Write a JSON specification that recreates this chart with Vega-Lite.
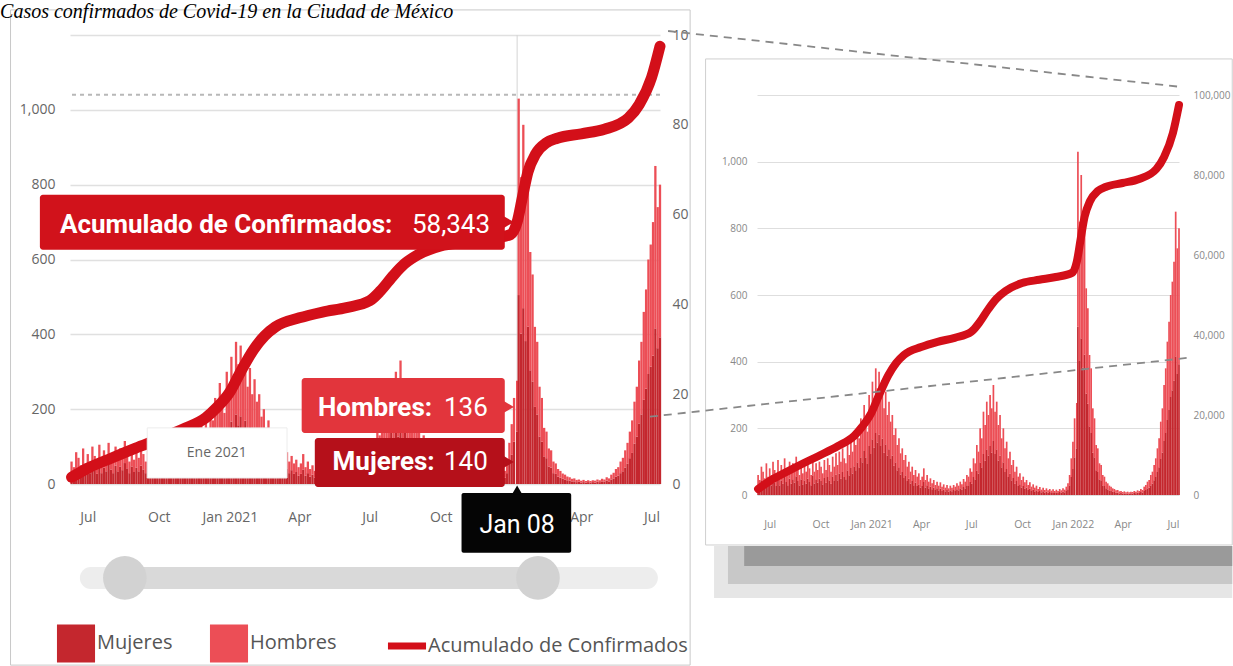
{
"$schema":"https://vega.github.io/schema/vega-lite/v6.json",
"background":"white",
"padding":{"left":0,"top":2,"right":0,"bottom":0},
"title":{"text":"Casos confirmados de Covid-19 en la Ciudad de México","anchor":"start","frame":"bounds","font":"Liberation Serif","fontSize":20,"fontStyle":"italic","fontWeight":"normal","color":"#000","dx":-10,"offset":-13},
"config":{"view":{"stroke":null},"font":"Open Sans","axis":{"domain":false,"ticks":false,"tickSize":0,"labelFont":"Open Sans"}},
"bounds":"flush",
"spacing":97,
"resolve":{"scale":{"color":"independent"},"legend":{"color":"independent"}},
"datasets":{
"diario":[
{"f":"2020-06-10","Mujeres":29,"Hombres":31},{"f":"2020-06-13","Mujeres":22,"Hombres":23},{"f":"2020-06-16","Mujeres":42,"Hombres":43},{"f":"2020-06-19","Mujeres":34,"Hombres":36},{"f":"2020-06-22","Mujeres":25,"Hombres":25},{"f":"2020-06-25","Mujeres":47,"Hombres":48},{"f":"2020-06-28","Mujeres":27,"Hombres":28},
{"f":"2020-07-01","Mujeres":39,"Hombres":41},{"f":"2020-07-04","Mujeres":29,"Hombres":31},{"f":"2020-07-07","Mujeres":49,"Hombres":51},{"f":"2020-07-10","Mujeres":37,"Hombres":38},{"f":"2020-07-13","Mujeres":27,"Hombres":28},{"f":"2020-07-16","Mujeres":51,"Hombres":54},{"f":"2020-07-19","Mujeres":29,"Hombres":31},{"f":"2020-07-22","Mujeres":44,"Hombres":46},{"f":"2020-07-25","Mujeres":34,"Hombres":36},{"f":"2020-07-28","Mujeres":54,"Hombres":56},{"f":"2020-07-31","Mujeres":39,"Hombres":41},
{"f":"2020-08-03","Mujeres":29,"Hombres":31},{"f":"2020-08-06","Mujeres":49,"Hombres":51},{"f":"2020-08-09","Mujeres":34,"Hombres":36},{"f":"2020-08-12","Mujeres":47,"Hombres":48},{"f":"2020-08-15","Mujeres":37,"Hombres":38},{"f":"2020-08-18","Mujeres":56,"Hombres":59},{"f":"2020-08-21","Mujeres":42,"Hombres":43},{"f":"2020-08-24","Mujeres":29,"Hombres":31},{"f":"2020-08-27","Mujeres":47,"Hombres":48},{"f":"2020-08-30","Mujeres":32,"Hombres":33},
{"f":"2020-09-02","Mujeres":44,"Hombres":46},{"f":"2020-09-05","Mujeres":34,"Hombres":36},{"f":"2020-09-08","Mujeres":49,"Hombres":51},{"f":"2020-09-11","Mujeres":39,"Hombres":41},{"f":"2020-09-14","Mujeres":29,"Hombres":31},{"f":"2020-09-17","Mujeres":59,"Hombres":61},{"f":"2020-09-20","Mujeres":34,"Hombres":36},{"f":"2020-09-23","Mujeres":47,"Hombres":48},{"f":"2020-09-26","Mujeres":37,"Hombres":38},{"f":"2020-09-29","Mujeres":49,"Hombres":51},
{"f":"2020-10-02","Mujeres":42,"Hombres":43},{"f":"2020-10-05","Mujeres":32,"Hombres":33},{"f":"2020-10-08","Mujeres":51,"Hombres":54},{"f":"2020-10-11","Mujeres":37,"Hombres":38},{"f":"2020-10-14","Mujeres":54,"Hombres":56},{"f":"2020-10-17","Mujeres":44,"Hombres":46},{"f":"2020-10-20","Mujeres":34,"Hombres":36},{"f":"2020-10-23","Mujeres":56,"Hombres":59},{"f":"2020-10-26","Mujeres":42,"Hombres":43},{"f":"2020-10-29","Mujeres":61,"Hombres":64},
{"f":"2020-11-01","Mujeres":44,"Hombres":46},{"f":"2020-11-04","Mujeres":64,"Hombres":66},{"f":"2020-11-07","Mujeres":49,"Hombres":51},{"f":"2020-11-10","Mujeres":69,"Hombres":71},{"f":"2020-11-13","Mujeres":54,"Hombres":56},{"f":"2020-11-16","Mujeres":47,"Hombres":48},{"f":"2020-11-19","Mujeres":74,"Hombres":76},{"f":"2020-11-22","Mujeres":59,"Hombres":61},{"f":"2020-11-25","Mujeres":81,"Hombres":84},{"f":"2020-11-28","Mujeres":64,"Hombres":66},
{"f":"2020-12-01","Mujeres":86,"Hombres":89},{"f":"2020-12-04","Mujeres":74,"Hombres":76},{"f":"2020-12-07","Mujeres":98,"Hombres":102},{"f":"2020-12-10","Mujeres":83,"Hombres":87},{"f":"2020-12-13","Mujeres":113,"Hombres":117},{"f":"2020-12-16","Mujeres":98,"Hombres":102},{"f":"2020-12-19","Mujeres":132,"Hombres":138},{"f":"2020-12-22","Mujeres":113,"Hombres":117},{"f":"2020-12-25","Mujeres":93,"Hombres":97},{"f":"2020-12-28","Mujeres":147,"Hombres":153},{"f":"2020-12-31","Mujeres":123,"Hombres":127},
{"f":"2021-01-03","Mujeres":167,"Hombres":173},{"f":"2021-01-06","Mujeres":142,"Hombres":148},{"f":"2021-01-09","Mujeres":186,"Hombres":194},{"f":"2021-01-12","Mujeres":157,"Hombres":163},{"f":"2021-01-15","Mujeres":181,"Hombres":189},{"f":"2021-01-18","Mujeres":147,"Hombres":153},{"f":"2021-01-21","Mujeres":169,"Hombres":176},{"f":"2021-01-24","Mujeres":127,"Hombres":133},{"f":"2021-01-27","Mujeres":152,"Hombres":158},{"f":"2021-01-30","Mujeres":118,"Hombres":122},
{"f":"2021-02-02","Mujeres":137,"Hombres":143},{"f":"2021-02-05","Mujeres":108,"Hombres":112},{"f":"2021-02-08","Mujeres":118,"Hombres":122},{"f":"2021-02-11","Mujeres":88,"Hombres":92},{"f":"2021-02-14","Mujeres":98,"Hombres":102},{"f":"2021-02-17","Mujeres":74,"Hombres":76},{"f":"2021-02-20","Mujeres":83,"Hombres":87},{"f":"2021-02-23","Mujeres":61,"Hombres":64},{"f":"2021-02-26","Mujeres":69,"Hombres":71},
{"f":"2021-03-01","Mujeres":51,"Hombres":54},{"f":"2021-03-04","Mujeres":59,"Hombres":61},{"f":"2021-03-07","Mujeres":42,"Hombres":43},{"f":"2021-03-10","Mujeres":49,"Hombres":51},{"f":"2021-03-13","Mujeres":34,"Hombres":36},{"f":"2021-03-16","Mujeres":42,"Hombres":43},{"f":"2021-03-19","Mujeres":29,"Hombres":31},{"f":"2021-03-22","Mujeres":37,"Hombres":38},{"f":"2021-03-25","Mujeres":27,"Hombres":28},{"f":"2021-03-28","Mujeres":32,"Hombres":33},{"f":"2021-03-31","Mujeres":22,"Hombres":23},
{"f":"2021-04-03","Mujeres":27,"Hombres":28},{"f":"2021-04-06","Mujeres":39,"Hombres":41},{"f":"2021-04-09","Mujeres":22,"Hombres":23},{"f":"2021-04-12","Mujeres":29,"Hombres":31},{"f":"2021-04-15","Mujeres":20,"Hombres":20},{"f":"2021-04-18","Mujeres":25,"Hombres":25},{"f":"2021-04-21","Mujeres":17,"Hombres":18},{"f":"2021-04-24","Mujeres":22,"Hombres":23},{"f":"2021-04-27","Mujeres":15,"Hombres":15},{"f":"2021-04-30","Mujeres":20,"Hombres":20},
{"f":"2021-05-03","Mujeres":14,"Hombres":14},{"f":"2021-05-06","Mujeres":19,"Hombres":19},{"f":"2021-05-09","Mujeres":12,"Hombres":13},{"f":"2021-05-12","Mujeres":16,"Hombres":16},{"f":"2021-05-15","Mujeres":11,"Hombres":11},{"f":"2021-05-18","Mujeres":15,"Hombres":15},{"f":"2021-05-21","Mujeres":10,"Hombres":10},{"f":"2021-05-24","Mujeres":14,"Hombres":14},{"f":"2021-05-27","Mujeres":11,"Hombres":11},{"f":"2021-05-30","Mujeres":15,"Hombres":15},
{"f":"2021-06-02","Mujeres":12,"Hombres":13},{"f":"2021-06-05","Mujeres":17,"Hombres":18},{"f":"2021-06-08","Mujeres":14,"Hombres":14},{"f":"2021-06-11","Mujeres":20,"Hombres":20},{"f":"2021-06-14","Mujeres":16,"Hombres":16},{"f":"2021-06-17","Mujeres":24,"Hombres":24},{"f":"2021-06-20","Mujeres":20,"Hombres":20},{"f":"2021-06-23","Mujeres":29,"Hombres":31},{"f":"2021-06-26","Mujeres":27,"Hombres":28},{"f":"2021-06-29","Mujeres":39,"Hombres":41},
{"f":"2021-07-02","Mujeres":34,"Hombres":36},{"f":"2021-07-05","Mujeres":54,"Hombres":56},{"f":"2021-07-08","Mujeres":47,"Hombres":48},{"f":"2021-07-11","Mujeres":74,"Hombres":76},{"f":"2021-07-14","Mujeres":64,"Hombres":66},{"f":"2021-07-17","Mujeres":98,"Hombres":102},{"f":"2021-07-20","Mujeres":83,"Hombres":87},{"f":"2021-07-23","Mujeres":123,"Hombres":127},{"f":"2021-07-26","Mujeres":103,"Hombres":107},{"f":"2021-07-29","Mujeres":137,"Hombres":143},
{"f":"2021-08-01","Mujeres":118,"Hombres":122},{"f":"2021-08-04","Mujeres":147,"Hombres":153},{"f":"2021-08-07","Mujeres":127,"Hombres":133},{"f":"2021-08-10","Mujeres":162,"Hombres":168},{"f":"2021-08-13","Mujeres":123,"Hombres":127},{"f":"2021-08-16","Mujeres":137,"Hombres":143},{"f":"2021-08-19","Mujeres":103,"Hombres":107},{"f":"2021-08-22","Mujeres":118,"Hombres":122},{"f":"2021-08-25","Mujeres":83,"Hombres":87},{"f":"2021-08-28","Mujeres":98,"Hombres":102},{"f":"2021-08-31","Mujeres":69,"Hombres":71},
{"f":"2021-09-03","Mujeres":78,"Hombres":82},{"f":"2021-09-06","Mujeres":54,"Hombres":56},{"f":"2021-09-09","Mujeres":64,"Hombres":66},{"f":"2021-09-12","Mujeres":44,"Hombres":46},{"f":"2021-09-15","Mujeres":51,"Hombres":54},{"f":"2021-09-18","Mujeres":34,"Hombres":36},{"f":"2021-09-21","Mujeres":42,"Hombres":43},{"f":"2021-09-24","Mujeres":27,"Hombres":28},{"f":"2021-09-27","Mujeres":32,"Hombres":33},{"f":"2021-09-30","Mujeres":22,"Hombres":23},
{"f":"2021-10-03","Mujeres":27,"Hombres":28},{"f":"2021-10-06","Mujeres":19,"Hombres":19},{"f":"2021-10-09","Mujeres":22,"Hombres":23},{"f":"2021-10-12","Mujeres":15,"Hombres":15},{"f":"2021-10-15","Mujeres":19,"Hombres":19},{"f":"2021-10-18","Mujeres":12,"Hombres":13},{"f":"2021-10-21","Mujeres":16,"Hombres":16},{"f":"2021-10-24","Mujeres":11,"Hombres":11},{"f":"2021-10-27","Mujeres":14,"Hombres":14},{"f":"2021-10-30","Mujeres":9,"Hombres":9},
{"f":"2021-11-02","Mujeres":12,"Hombres":12},{"f":"2021-11-05","Mujeres":8,"Hombres":8},{"f":"2021-11-08","Mujeres":11,"Hombres":11},{"f":"2021-11-11","Mujeres":7,"Hombres":8},{"f":"2021-11-14","Mujeres":10,"Hombres":10},{"f":"2021-11-17","Mujeres":7,"Hombres":7},{"f":"2021-11-20","Mujeres":9,"Hombres":9},{"f":"2021-11-23","Mujeres":6,"Hombres":7},{"f":"2021-11-26","Mujeres":8,"Hombres":9},{"f":"2021-11-29","Mujeres":6,"Hombres":6},
{"f":"2021-12-02","Mujeres":8,"Hombres":8},{"f":"2021-12-05","Mujeres":6,"Hombres":6},{"f":"2021-12-08","Mujeres":9,"Hombres":9},{"f":"2021-12-11","Mujeres":7,"Hombres":7},{"f":"2021-12-14","Mujeres":10,"Hombres":10},{"f":"2021-12-17","Mujeres":8,"Hombres":8},{"f":"2021-12-20","Mujeres":12,"Hombres":13},{"f":"2021-12-23","Mujeres":17,"Hombres":18},{"f":"2021-12-26","Mujeres":29,"Hombres":31},{"f":"2021-12-29","Mujeres":54,"Hombres":56},
{"f":"2022-01-01","Mujeres":78,"Hombres":82},{"f":"2022-01-04","Mujeres":113,"Hombres":117},{"f":"2022-01-08","Mujeres":140,"Hombres":136},{"f":"2022-01-10","Mujeres":505,"Hombres":525},{"f":"2022-01-13","Mujeres":402,"Hombres":418},{"f":"2022-01-16","Mujeres":470,"Hombres":490},{"f":"2022-01-19","Mujeres":382,"Hombres":398},{"f":"2022-01-22","Mujeres":421,"Hombres":439},{"f":"2022-01-25","Mujeres":304,"Hombres":316},{"f":"2022-01-28","Mujeres":274,"Hombres":286},{"f":"2022-01-31","Mujeres":206,"Hombres":214},
{"f":"2022-02-03","Mujeres":186,"Hombres":194},{"f":"2022-02-06","Mujeres":127,"Hombres":133},{"f":"2022-02-09","Mujeres":113,"Hombres":117},{"f":"2022-02-12","Mujeres":74,"Hombres":76},{"f":"2022-02-15","Mujeres":69,"Hombres":71},{"f":"2022-02-18","Mujeres":47,"Hombres":48},{"f":"2022-02-21","Mujeres":44,"Hombres":46},{"f":"2022-02-24","Mujeres":29,"Hombres":31},{"f":"2022-02-27","Mujeres":27,"Hombres":28},
{"f":"2022-03-02","Mujeres":20,"Hombres":20},{"f":"2022-03-05","Mujeres":17,"Hombres":18},{"f":"2022-03-08","Mujeres":14,"Hombres":14},{"f":"2022-03-11","Mujeres":12,"Hombres":13},{"f":"2022-03-14","Mujeres":10,"Hombres":10},{"f":"2022-03-17","Mujeres":9,"Hombres":9},{"f":"2022-03-20","Mujeres":7,"Hombres":7},{"f":"2022-03-23","Mujeres":7,"Hombres":8},{"f":"2022-03-26","Mujeres":5,"Hombres":6},{"f":"2022-03-29","Mujeres":6,"Hombres":6},
{"f":"2022-04-01","Mujeres":4,"Hombres":5},{"f":"2022-04-04","Mujeres":5,"Hombres":6},{"f":"2022-04-07","Mujeres":4,"Hombres":4},{"f":"2022-04-10","Mujeres":5,"Hombres":5},{"f":"2022-04-13","Mujeres":4,"Hombres":4},{"f":"2022-04-16","Mujeres":5,"Hombres":5},{"f":"2022-04-19","Mujeres":4,"Hombres":5},{"f":"2022-04-22","Mujeres":6,"Hombres":6},{"f":"2022-04-25","Mujeres":5,"Hombres":5},{"f":"2022-04-28","Mujeres":7,"Hombres":7},
{"f":"2022-05-01","Mujeres":6,"Hombres":6},{"f":"2022-05-04","Mujeres":9,"Hombres":9},{"f":"2022-05-07","Mujeres":7,"Hombres":8},{"f":"2022-05-10","Mujeres":12,"Hombres":13},{"f":"2022-05-13","Mujeres":15,"Hombres":15},{"f":"2022-05-16","Mujeres":20,"Hombres":20},{"f":"2022-05-19","Mujeres":22,"Hombres":23},{"f":"2022-05-22","Mujeres":29,"Hombres":31},{"f":"2022-05-25","Mujeres":34,"Hombres":36},{"f":"2022-05-28","Mujeres":44,"Hombres":46},{"f":"2022-05-31","Mujeres":54,"Hombres":56},
{"f":"2022-06-03","Mujeres":69,"Hombres":71},{"f":"2022-06-06","Mujeres":83,"Hombres":87},{"f":"2022-06-09","Mujeres":108,"Hombres":112},{"f":"2022-06-12","Mujeres":127,"Hombres":133},{"f":"2022-06-15","Mujeres":162,"Hombres":168},{"f":"2022-06-18","Mujeres":186,"Hombres":194},{"f":"2022-06-21","Mujeres":225,"Hombres":235},{"f":"2022-06-24","Mujeres":255,"Hombres":265},{"f":"2022-06-27","Mujeres":294,"Hombres":306},{"f":"2022-06-30","Mujeres":314,"Hombres":326},
{"f":"2022-07-03","Mujeres":343,"Hombres":357},{"f":"2022-07-06","Mujeres":416,"Hombres":434},{"f":"2022-07-09","Mujeres":363,"Hombres":377},{"f":"2022-07-12","Mujeres":392,"Hombres":408}
],
"acumulado":[
{"f":"2020-06-10","v":1500},{"f":"2020-07-01","v":3500},{"f":"2020-08-01","v":5800},{"f":"2020-09-01","v":8000},{"f":"2020-10-01","v":10000},{"f":"2020-11-01","v":12200},{"f":"2020-12-01","v":14800},{"f":"2020-12-15","v":17000},{"f":"2021-01-01","v":20500},{"f":"2021-01-15","v":25000},{"f":"2021-02-01","v":30000},{"f":"2021-02-15","v":33000},{"f":"2021-03-01","v":35000},{"f":"2021-04-01","v":37000},{"f":"2021-05-01","v":38300},{"f":"2021-06-01","v":39300},{"f":"2021-07-01","v":40800},{"f":"2021-07-15","v":43000},{"f":"2021-08-01","v":46500},{"f":"2021-08-15","v":49000},{"f":"2021-09-01","v":51000},{"f":"2021-10-01","v":53000},{"f":"2021-11-01","v":53800},{"f":"2021-12-01","v":54500},{"f":"2021-12-31","v":55600},{"f":"2022-01-08","v":58343},{"f":"2022-01-15","v":64000},{"f":"2022-01-22","v":69500},{"f":"2022-02-01","v":73500},{"f":"2022-02-15","v":76000},{"f":"2022-03-01","v":77000},{"f":"2022-04-01","v":78000},{"f":"2022-05-01","v":79000},{"f":"2022-06-01","v":81500},{"f":"2022-06-15","v":84500},{"f":"2022-07-01","v":90500},{"f":"2022-07-12","v":97500}
]
},
"hconcat":[
{
"width":590,"height":449,
"resolve":{"scale":{"y":"independent"}},
"layer":[
{"layer":[
{"data":{"values":[{}]},"mark":{"type":"rule","color":"#b8b8b8","strokeWidth":2,"strokeDash":[4,4]},"encoding":{"y":{"datum":1040,"type":"quantitative"}}},
{"data":{"values":[{}]},"mark":{"type":"rule","color":"#d4d4d4","strokeWidth":1},"encoding":{"x":{"datum":{"year":2022,"month":1,"date":8},"type":"temporal"}}},
{"data":{"name":"diario"},
"transform":[{"fold":["Mujeres","Hombres"],"as":["sexo","casos"]},{"calculate":"datum.sexo == 'Mujeres' ? 0 : 1","as":"orden"}],
"mark":{"type":"bar","width":2.3},
"encoding":{
"x":{"field":"f","type":"temporal","scale":{"domain":[{"year":2020,"month":6,"date":8},{"year":2022,"month":7,"date":12}],"padding":0},
"axis":{"tickCount":{"interval":"month","step":3},"labelOverlap":false,
"labelExpr":"timeFormat(datum.value, '%Y-%m') == '2022-01' ? '' : (timeFormat(datum.value, '%m') == '01' ? timeFormat(datum.value, '%b %Y') : timeFormat(datum.value, '%b'))","title":null,"grid":false,"labelFontSize":14,"labelPadding":26,"labelColor":"#666"}},
"y":{"field":"casos","type":"quantitative","stack":"zero","scale":{"domain":[0,1200],"nice":false},
"axis":{"values":[0,200,400,600,800,1000,1200],"labelExpr":"datum.value == 1200 ? '' : format(datum.value, ',')","title":null,"grid":true,"gridColor":"#e0e0e0","gridWidth":1.5,"labelFontSize":14,"labelPadding":15,"labelColor":"#666"}},
"color":{"field":"sexo","type":"nominal","scale":{"domain":["Mujeres","Hombres","Acumulado de Confirmados"],"range":["#c4272e","#ec4e56","#d30f19"]},
"legend":{"orient":"none","legendX":-4,"legendY":598,"direction":"horizontal","title":null,"symbolSize":1450,"symbolType":"square","symbolStrokeWidth":0,"symbolOpacity":1,"labelFontSize":20,"labelFont":"Open Sans","labelColor":"#555","labelOffset":11,"columnPadding":36,"padding":0,"labelLimit":400,
"encode":{"symbols":{"update":{"shape":{"signal":"datum.label == 'Acumulado de Confirmados' ? 'stroke' : 'square'"},"strokeWidth":{"signal":"datum.label == 'Acumulado de Confirmados' ? 7 : 0"},"stroke":{"signal":"datum.label == 'Acumulado de Confirmados' ? '#d30f19' : 'transparent'"},"opacity":{"value":1}}}}}},
"order":{"field":"orden"}
}}
]},
{"data":{"name":"acumulado"},
"mark":{"type":"line","strokeWidth":11,"strokeCap":"round","strokeJoin":"round","interpolate":"monotone"},
"encoding":{
"x":{"field":"f","type":"temporal"},
"y":{"field":"v","type":"quantitative","scale":{"domain":[0,100000],"nice":false},
"axis":{"orient":"right","values":[0,20000,40000,60000,80000,100000],"labelExpr":"substring(format(datum.value, ','), 0, 2)","title":null,"grid":false,"labelFontSize":14,"labelPadding":12,"labelColor":"#666"}},
"color":{"datum":"Acumulado de Confirmados"}
}},
{"data":{"values":[{}]},
"layer":[
{"mark":{"type":"rect","fill":"white","fillOpacity":0,"stroke":"#c8c8c8","strokeWidth":1},
"encoding":{"x":{"datum":{"year":2020,"month":3,"date":23},"type":"temporal"},"x2":{"datum":{"year":2022,"month":8,"date":20}},"y":{"datum":-484,"type":"quantitative","scale":{"domain":[0,1200],"nice":false},"axis":null},"y2":{"datum":1267}}},
{"mark":{"type":"rule","color":"#ededed","strokeWidth":22,"strokeCap":"round"},
"encoding":{"x":{"datum":{"year":2020,"month":7,"date":5},"type":"temporal"},"x2":{"datum":{"year":2022,"month":6,"date":25}},"y":{"datum":-251,"type":"quantitative","axis":null}}},
{"mark":{"type":"rule","color":"#d9d9d9","strokeWidth":22},
"encoding":{"x":{"datum":{"year":2020,"month":8,"date":18},"type":"temporal"},"x2":{"datum":{"year":2022,"month":2,"date":4}},"y":{"datum":-251,"type":"quantitative","axis":null}}},
{"mark":{"type":"point","shape":"circle","filled":true,"size":1900,"color":"#d2d2d2","opacity":1},
"encoding":{"x":{"datum":{"year":2020,"month":8,"date":18},"type":"temporal"},"y":{"datum":-251,"type":"quantitative","axis":null}}},
{"mark":{"type":"point","shape":"circle","filled":true,"size":1900,"color":"#d2d2d2","opacity":1},
"encoding":{"x":{"datum":{"year":2022,"month":2,"date":4},"type":"temporal"},"y":{"datum":-251,"type":"quantitative","axis":null}}},
{"mark":{"type":"rect","fill":"white","stroke":"#ececec","strokeWidth":1},
"encoding":{"x":{"datum":{"year":2020,"month":9,"date":16},"type":"temporal"},"x2":{"datum":{"year":2021,"month":3,"date":16}},"y":{"datum":16,"type":"quantitative","axis":null},"y2":{"datum":150}}},
{"mark":{"type":"text","text":"Ene 2021","font":"Open Sans","fontSize":14,"color":"#666","align":"center","baseline":"middle"},
"encoding":{"x":{"datum":{"year":2020,"month":12,"date":15},"type":"temporal"},"y":{"datum":83,"type":"quantitative","axis":null}}},
{"mark":{"type":"rect","fill":"#d1121b","cornerRadius":3},
"encoding":{"x":{"datum":{"year":2020,"month":4,"date":30},"type":"temporal"},"x2":{"datum":{"year":2021,"month":12,"date":23}},"y":{"datum":626,"type":"quantitative","axis":null},"y2":{"datum":773}}},
{"mark":{"type":"point","shape":"triangle-right","filled":true,"size":150,"color":"#d1121b","opacity":1},
"encoding":{"x":{"datum":{"year":2021,"month":12,"date":28},"type":"temporal"},"y":{"datum":700,"type":"quantitative","axis":null}}},
{"mark":{"type":"text","text":"Acumulado de Confirmados:","font":"Roboto","fontWeight":"bold","fontSize":26,"color":"white","align":"left","baseline":"middle"},
"encoding":{"x":{"datum":{"year":2020,"month":5,"date":26},"type":"temporal"},"y":{"datum":692,"type":"quantitative","axis":null}}},
{"mark":{"type":"text","text":"58,343","font":"Roboto","fontSize":26,"color":"white","align":"right","baseline":"middle"},
"encoding":{"x":{"datum":{"year":2021,"month":12,"date":4},"type":"temporal"},"y":{"datum":692,"type":"quantitative","axis":null}}},
{"mark":{"type":"rect","fill":"#e2353c","cornerRadius":3},
"encoding":{"x":{"datum":{"year":2021,"month":4,"date":4},"type":"temporal"},"x2":{"datum":{"year":2021,"month":12,"date":23}},"y":{"datum":136,"type":"quantitative","axis":null},"y2":{"datum":283}}},
{"mark":{"type":"point","shape":"triangle-right","filled":true,"size":150,"color":"#e2353c","opacity":1},
"encoding":{"x":{"datum":{"year":2021,"month":12,"date":28},"type":"temporal"},"y":{"datum":206,"type":"quantitative","axis":null}}},
{"mark":{"type":"text","text":"Hombres:","font":"Roboto","fontWeight":"bold","fontSize":26,"color":"white","align":"left","baseline":"middle"},
"encoding":{"x":{"datum":{"year":2021,"month":4,"date":25},"type":"temporal"},"y":{"datum":203,"type":"quantitative","axis":null}}},
{"mark":{"type":"text","text":"136","font":"Roboto","fontSize":26,"color":"white","align":"right","baseline":"middle"},
"encoding":{"x":{"datum":{"year":2021,"month":12,"date":1},"type":"temporal"},"y":{"datum":203,"type":"quantitative","axis":null}}},
{"mark":{"type":"rect","fill":"#b5101a","cornerRadius":3},
"encoding":{"x":{"datum":{"year":2021,"month":4,"date":21},"type":"temporal"},"x2":{"datum":{"year":2021,"month":12,"date":23}},"y":{"datum":-8,"type":"quantitative","axis":null},"y2":{"datum":123}}},
{"mark":{"type":"point","shape":"triangle-right","filled":true,"size":150,"color":"#b5101a","opacity":1},
"encoding":{"x":{"datum":{"year":2021,"month":12,"date":28},"type":"temporal"},"y":{"datum":59,"type":"quantitative","axis":null}}},
{"mark":{"type":"text","text":"Mujeres:","font":"Roboto","fontWeight":"bold","fontSize":26,"color":"white","align":"left","baseline":"middle"},
"encoding":{"x":{"datum":{"year":2021,"month":5,"date":14},"type":"temporal"},"y":{"datum":59,"type":"quantitative","axis":null}}},
{"mark":{"type":"text","text":"140","font":"Roboto","fontSize":26,"color":"white","align":"right","baseline":"middle"},
"encoding":{"x":{"datum":{"year":2021,"month":12,"date":1},"type":"temporal"},"y":{"datum":59,"type":"quantitative","axis":null}}},
{"mark":{"type":"rect","fill":"#050505","cornerRadius":2},
"encoding":{"x":{"datum":{"year":2021,"month":10,"date":28},"type":"temporal"},"x2":{"datum":{"year":2022,"month":3,"date":19}},"y":{"datum":-184,"type":"quantitative","axis":null},"y2":{"datum":-24}}},
{"mark":{"type":"point","shape":"triangle-up","filled":true,"size":110,"color":"#050505","opacity":1},
"encoding":{"x":{"datum":{"year":2022,"month":1,"date":8},"type":"temporal"},"y":{"datum":-16,"type":"quantitative","axis":null}}},
{"mark":{"type":"text","text":"Jan 08","font":"Roboto","fontSize":25,"color":"white","align":"center","baseline":"middle"},
"encoding":{"x":{"datum":{"year":2022,"month":1,"date":8},"type":"temporal"},"y":{"datum":-110,"type":"quantitative","axis":null}}},
{"mark":{"type":"rect","fill":"#e6e6e6"},
"encoding":{"x":{"datum":{"year":2022,"month":9,"date":20},"type":"temporal"},"x2":{"datum":{"year":2024,"month":7,"date":22}},"y":{"datum":-305,"type":"quantitative","axis":null},"y2":{"datum":-166}}},
{"mark":{"type":"rect","fill":"#c8c8c8"},
"encoding":{"x":{"datum":{"year":2022,"month":10,"date":8},"type":"temporal"},"x2":{"datum":{"year":2024,"month":7,"date":22}},"y":{"datum":-267,"type":"quantitative","axis":null},"y2":{"datum":-166}}},
{"mark":{"type":"rect","fill":"#9a9a9a"},
"encoding":{"x":{"datum":{"year":2022,"month":10,"date":29},"type":"temporal"},"x2":{"datum":{"year":2024,"month":7,"date":22}},"y":{"datum":-219,"type":"quantitative","axis":null},"y2":{"datum":-166}}},
{"mark":{"type":"rect","fill":"white","stroke":"#cfcfcf","strokeWidth":1},
"encoding":{"x":{"datum":{"year":2022,"month":9,"date":9},"type":"temporal"},"x2":{"datum":{"year":2024,"month":7,"date":22}},"y":{"datum":-163,"type":"quantitative","axis":null},"y2":{"datum":1136}}}
]}
]
},
{
"vconcat":[
{"width":422,"height":60,"data":{"values":[{}]},"mark":{"type":"point","opacity":0},"encoding":{}},
{
"width":422,"height":400,
"resolve":{"scale":{"y":"independent"}},
"layer":[
{"data":{"name":"diario"},
"transform":[{"fold":["Mujeres","Hombres"],"as":["sexo","casos"]},{"calculate":"datum.sexo == 'Mujeres' ? 0 : 1","as":"orden"}],
"mark":{"type":"bar","width":1.7},
"encoding":{
"x":{"field":"f","type":"temporal","scale":{"domain":[{"year":2020,"month":6,"date":8},{"year":2022,"month":7,"date":12}],"padding":0},
"axis":{"tickCount":{"interval":"month","step":3},"labelOverlap":false,
"labelExpr":"timeFormat(datum.value, '%m') == '01' ? timeFormat(datum.value, '%b %Y') : timeFormat(datum.value, '%b')","title":null,"grid":false,"labelFontSize":10.5,"labelPadding":24,"labelColor":"#888"}},
"y":{"field":"casos","type":"quantitative","stack":"zero","scale":{"domain":[0,1200],"nice":false},
"axis":{"values":[0,200,400,600,800,1000,1200],"labelExpr":"datum.value == 1200 ? '' : format(datum.value, ',')","title":null,"grid":true,"gridColor":"#dedede","gridWidth":1,"labelFontSize":10,"labelPadding":10,"labelColor":"#888"}},
"color":{"field":"sexo","type":"nominal","scale":{"domain":["Mujeres","Hombres","Acumulado de Confirmados"],"range":["#c4272e","#ec4e56","#d30f19"]},"legend":null},
"order":{"field":"orden"}
}},
{"data":{"name":"acumulado"},
"mark":{"type":"line","strokeWidth":8,"strokeCap":"round","strokeJoin":"round","interpolate":"monotone","color":"#d30f19"},
"encoding":{
"x":{"field":"f","type":"temporal"},
"y":{"field":"v","type":"quantitative","scale":{"domain":[0,100000],"nice":false},
"axis":{"orient":"right","values":[0,20000,40000,60000,80000,100000],"labelExpr":"format(datum.value, ',')","title":null,"grid":false,"labelFontSize":10,"labelPadding":14,"labelColor":"#888"}}
}},
{"data":{"values":[{}]},
"layer":[
{"mark":{"type":"rule","color":"#888","strokeWidth":1.8,"strokeDash":[8,6]},
"encoding":{"x":{"datum":{"year":2019,"month":12,"date":30},"type":"temporal"},"x2":{"datum":{"year":2022,"month":7,"date":17}},"y":{"datum":1392,"type":"quantitative","scale":{"domain":[0,1200],"nice":false},"axis":null},"y2":{"datum":1224}}},
{"mark":{"type":"rule","color":"#888","strokeWidth":1.8,"strokeDash":[8,6]},
"encoding":{"x":{"datum":{"year":2019,"month":11,"date":27},"type":"temporal"},"x2":{"datum":{"year":2022,"month":7,"date":31}},"y":{"datum":235,"type":"quantitative","axis":null},"y2":{"datum":412}}}
]}
]
}
],
"spacing":0,
"bounds":"flush"
}
]
}
